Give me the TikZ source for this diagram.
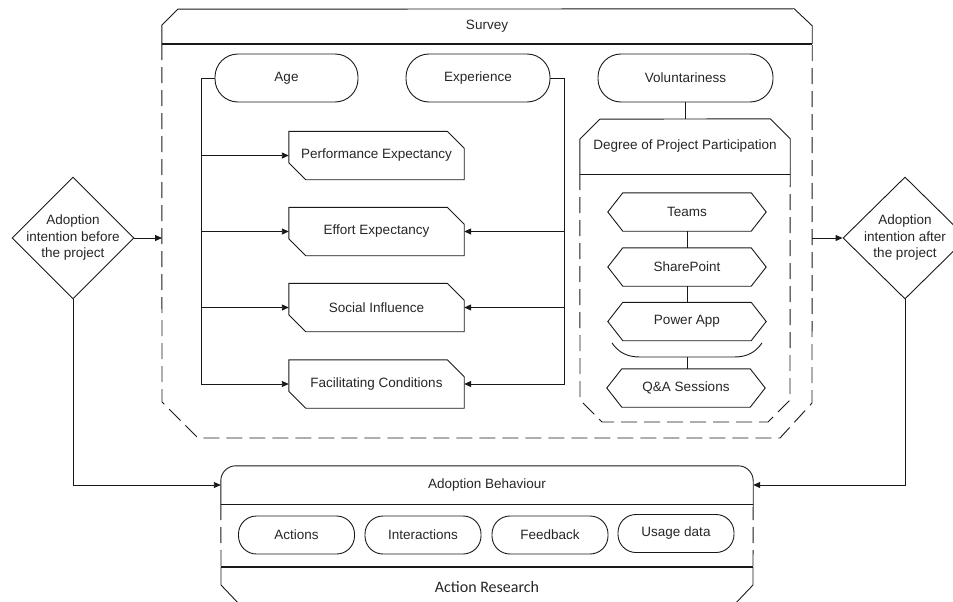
\documentclass[tikz,border=0pt]{standalone}
\usepackage{fontspec}
\setmainfont{Liberation Sans}
\newfontfamily\calibfont{Carlito}
\usetikzlibrary{calc,arrows.meta,shapes.geometric}
\begin{document}
\begin{tikzpicture}[x=1pt,y=-1pt,
  every node/.style={font=\fontsize{13.5}{16.5}\selectfont, text=black!85, inner sep=0pt},
  ln/.style={line width=0.9pt, draw=black!90},
  sepline/.style={line width=1.4pt, draw=black!90},
  dsh/.style={ln, dash pattern=on 16pt off 7pt},
  arr/.style={ln, -{Triangle[length=7pt,width=6pt]}},
  pill/.style={draw, ln, rounded corners=23pt, minimum height=48pt},
  bpill/.style={draw, ln, rounded corners=18pt, minimum height=38pt, minimum width=116pt},
  cham/.style={minimum width=175pt, minimum height=48pt},
  hexbox/.style={minimum width=158pt, minimum height=38pt},
  dia/.style={diamond, draw, ln, minimum height=122pt}
]
\useasboundingbox (0,0) rectangle (953,602);
\clip (0,0) rectangle (953,602);

% ---------- Survey container ----------
\node[minimum width=650pt, minimum height=35pt] (sv) at (487,26.5) {Survey};
\draw[ln] (sv.south west) -- ++(0pt,19pt) -- ++(16pt,16pt) -- ($(sv.north east)+(-18pt,0pt)$) -- ++(18pt,-17pt) -- (sv.south east);
\draw[sepline] (sv.south west) -- (sv.south east);
\draw[dsh] (sv.south west) -- (162,402) -- (198,438) -- (780,438) -- (812,403) -- (sv.south east);

% ---------- moderators ----------
\node[pill, minimum width=143pt] (age) at (286.5,78) {Age};
\node[pill, minimum width=144pt] (exp) at (478,78) {Experience};
\node[pill, minimum width=175pt] (vol) at (685.5,78) {Voluntariness};

% ---------- constructs ----------
\node[cham] (perf) at (376.5,155.5) {Performance Expectancy};
\node[cham] (effort) at (376.5,231.5) {Effort Expectancy};
\node[cham] (social) at (376.5,307.5) {Social Influence};
\node[cham] (fac) at (376.5,384) {Facilitating Conditions};
\foreach \n in {perf,effort,social,fac}
  \draw[ln] (\n.north west) -- ($(\n.north east)+(-17pt,0pt)$) -- ($(\n.north east)+(0pt,-17pt)$)
    -- (\n.south east) -- ($(\n.south west)+(17pt,0pt)$) -- ($(\n.south west)+(0pt,17pt)$) -- cycle;

\coordinate (abus) at (201,78);
\draw[arr] (age.west) -- (abus) |- (fac.west);
\foreach \n in {perf,effort,social}
  \draw[arr] (abus |- \n.west) -- (\n.west);
\coordinate (ebus) at (564,78);
\draw[arr] (exp.east) -- (ebus) |- (fac.east);
\foreach \n in {effort,social}
  \draw[arr] (ebus |- \n.east) -- (\n.east);

% ---------- Degree of project participation ----------
\node[minimum width=210pt, minimum height=55pt] (dg) at (685,146.5) {Degree of Project Participation};
\draw[ln] (dg.south west) -- ++(0pt,35pt) -- ++(20pt,20pt) -- ($(dg.north east)+(-20pt,0pt)$) -- ++(20pt,-20pt) -- (dg.south east);
\draw[sepline] (dg.south west) -- (dg.south east);
\draw[dsh] (dg.south west) -- (580,400) -- (602,422) -- (768,422) -- (790,400) -- (dg.south east);
\draw[ln] (vol.south) -- (vol.south |- dg.north);

\node[hexbox] (teams) at (687,212) {Teams};
\node[hexbox] (sp) at (687,267) {SharePoint};
\node[hexbox] (pa) at (687,321.5) {Power App};
\node[hexbox] (qa) at (686,388) {Q\&A Sessions};
\foreach \n in {teams,sp,pa,qa}
  \draw[ln] (\n.west) -- ($(\n.north west)+(15pt,0pt)$) -- ($(\n.north east)+(-15pt,0pt)$) -- (\n.east)
    -- ($(\n.south east)+(-15pt,0pt)$) -- ($(\n.south west)+(15pt,0pt)$) -- cycle;
\draw[ln] (teams.south) -- (sp.north);
\draw[ln] (sp.south) -- (pa.north);
\coordinate (cv) at (687,357);
\draw[ln] (612,343) to[out=-55,in=180] (640,357) -- (734,357) to[out=0,in=-125] (762,343);
\draw[ln] (cv) -- (cv |- qa.north);

% ---------- intention diamonds ----------
\node[dia, minimum width=122pt] (dl) at (73,238) {};
\node[align=center] (dltext) at (dl) {Adoption\\intention before\\the project};
\node[dia, minimum width=124pt] (dr) at (905,238) {};
\node[align=center] (drtext) at (dr) {Adoption\\intention after\\the project};
\coordinate (svL) at (162,238);
\coordinate (svR) at (812,238);
\draw[arr] (dl.east) -- (svL);
\draw[arr] (svR) -- (dr.west);

% ---------- Adoption behaviour / action research ----------
\node[minimum width=532pt, minimum height=38pt] (ab) at (487,485) {Adoption Behaviour};
\draw[ln, rounded corners=15pt] (ab.south west) -- (ab.north west) -- (ab.north east) -- (ab.south east);
\draw[sepline, line width=1.3pt] (ab.south west) -- (ab.south east);
\coordinate (arL) at (221,567);
\coordinate (arR) at (753,567);
\draw[dsh] (ab.south west) -- (arL);
\draw[dsh] (ab.south east) -- (arR);
\draw[sepline, line width=1.3pt] (arL) -- (arR);
\draw[ln] (arL) -- (221,585) -- (241,606);
\draw[ln] (arR) -- (753,585) -- (733,606);
\node[font=\calibfont\fontsize{16}{18}\selectfont] (ar) at (487,587) {Action Research};

\node[bpill] (act) at (296.5,535) {Actions};
\node[bpill] (inter) at (423,535) {Interactions};
\node[bpill] (fb) at (550,535) {Feedback};
\node[bpill] (ud) at (676,533.5) {Usage data};

\draw[arr] (dl.south) |- (ab.west);
\draw[arr] (dr.south) |- (ab.east);
\end{tikzpicture}
\end{document}
